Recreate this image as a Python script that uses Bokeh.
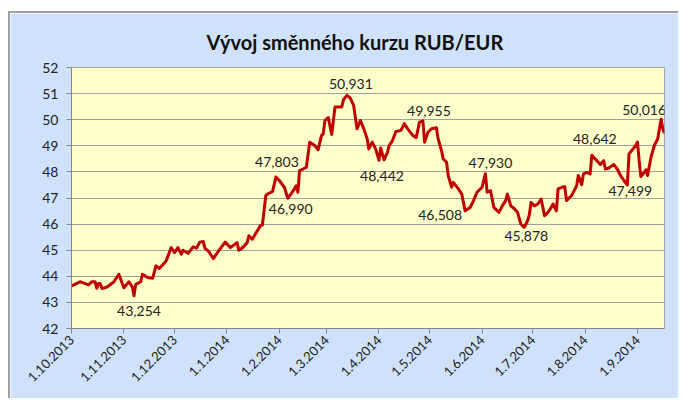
from datetime import datetime
from bokeh.plotting import figure
from bokeh.models import FixedTicker, Range1d, ColumnDataSource, Title
from bokeh.core.properties import value
from bokeh.embed import file_html
from bokeh.resources import INLINE

# ---- data ----
dates = [
    "2013-10-01", "2013-10-03", "2013-10-06", "2013-10-08", "2013-10-11", "2013-10-13", "2013-10-15",
    "2013-10-16", "2013-10-17", "2013-10-18", "2013-10-19", "2013-10-22", "2013-10-26", "2013-10-29",
    "2013-11-01", "2013-11-04", "2013-11-06", "2013-11-07", "2013-11-08", "2013-11-11", "2013-11-12",
    "2013-11-15", "2013-11-18", "2013-11-20", "2013-11-22", "2013-11-26", "2013-11-29",
    "2013-12-01", "2013-12-03", "2013-12-05", "2013-12-06", "2013-12-09", "2013-12-12", "2013-12-14",
    "2013-12-16", "2013-12-18", "2013-12-19", "2013-12-21", "2013-12-24", "2013-12-27", "2013-12-31",
    "2014-01-03", "2014-01-07", "2014-01-08", "2014-01-10", "2014-01-13", "2014-01-14", "2014-01-16",
    "2014-01-21", "2014-01-22", "2014-01-24", "2014-01-25", "2014-01-28", "2014-01-30",
    "2014-02-01", "2014-02-04", "2014-02-06", "2014-02-09", "2014-02-11", "2014-02-12", "2014-02-13",
    "2014-02-15", "2014-02-17", "2014-02-19", "2014-02-22", "2014-02-24", "2014-02-26", "2014-02-27",
    "2014-02-28",
    "2014-03-02", "2014-03-04", "2014-03-06", "2014-03-10", "2014-03-11", "2014-03-13", "2014-03-15",
    "2014-03-17", "2014-03-19", "2014-03-21", "2014-03-23", "2014-03-25", "2014-03-26", "2014-03-28",
    "2014-03-30",
    "2014-04-01", "2014-04-02", "2014-04-04", "2014-04-06", "2014-04-07", "2014-04-09", "2014-04-11",
    "2014-04-12", "2014-04-14", "2014-04-16", "2014-04-18", "2014-04-21", "2014-04-23", "2014-04-25",
    "2014-04-27", "2014-04-28", "2014-04-30",
    "2014-05-02", "2014-05-05", "2014-05-06", "2014-05-08", "2014-05-09", "2014-05-11", "2014-05-12",
    "2014-05-14", "2014-05-15", "2014-05-18", "2014-05-20", "2014-05-22", "2014-05-25", "2014-05-27",
    "2014-05-29",
    "2014-06-01", "2014-06-03", "2014-06-04", "2014-06-06", "2014-06-08", "2014-06-11", "2014-06-13",
    "2014-06-15", "2014-06-16", "2014-06-18", "2014-06-20", "2014-06-22", "2014-06-24", "2014-06-26",
    "2014-06-28", "2014-06-29", "2014-06-30",
    "2014-07-02", "2014-07-04", "2014-07-06", "2014-07-07", "2014-07-08", "2014-07-10", "2014-07-12",
    "2014-07-13", "2014-07-15", "2014-07-16", "2014-07-19", "2014-07-20", "2014-07-21", "2014-07-24",
    "2014-07-27", "2014-07-28", "2014-07-30", "2014-07-31",
    "2014-08-02", "2014-08-04", "2014-08-05", "2014-08-08", "2014-08-10", "2014-08-12", "2014-08-13",
    "2014-08-15", "2014-08-18", "2014-08-20", "2014-08-22", "2014-08-24", "2014-08-26", "2014-08-27",
    "2014-08-29", "2014-08-31",
    "2014-09-01", "2014-09-02", "2014-09-03", "2014-09-05", "2014-09-06", "2014-09-07", "2014-09-09",
    "2014-09-11", "2014-09-13", "2014-09-15", "2014-09-16", "2014-09-17",
]
rates = [
    43.63, 43.69, 43.79, 43.75, 43.67, 43.79, 43.79,
    43.54, 43.72, 43.72, 43.53, 43.59, 43.78, 44.08,
    43.56, 43.79, 43.59, 43.254, 43.69, 43.79, 44.08,
    43.95, 43.92, 44.40, 44.30, 44.59, 45.10,
    44.91, 45.10, 44.85, 45.00, 44.88, 45.13, 45.08,
    45.31, 45.33, 45.07, 44.97, 44.68, 44.97, 45.31,
    45.10, 45.29, 45.00, 45.08, 45.29, 45.55, 45.42,
    45.96, 45.96, 47.09, 47.15, 47.25, 47.803,
    47.67, 47.41, 46.990, 47.25, 47.47, 47.22, 48.05,
    48.11, 48.18, 49.14, 49.01, 48.85, 49.40, 49.46,
    49.97,
    50.08, 49.43, 50.49, 50.49, 50.77, 50.931, 50.83,
    50.55, 49.65, 49.97, 49.65, 49.27, 48.88, 49.14,
    48.88,
    48.442, 48.92, 48.46, 48.75, 49.01, 49.20, 49.55,
    49.56, 49.59, 49.85, 49.65, 49.40, 49.31, 49.91,
    49.955, 49.14, 49.52,
    49.65, 49.69, 49.27, 48.82, 48.50, 48.37, 47.86,
    47.41, 47.60, 47.35, 47.15, 46.508, 46.64, 46.90,
    47.22,
    47.41, 47.930, 47.22, 47.28, 46.64, 46.45, 46.70,
    46.90, 47.15, 46.70, 46.60, 46.45, 46.00, 45.878,
    46.13, 46.36, 46.83,
    46.70, 46.77, 46.96, 46.64, 46.32, 46.45, 46.64,
    46.77, 46.51, 47.35, 47.43, 47.43, 46.90, 47.09,
    47.47, 47.86, 47.51, 47.92,
    47.98, 47.92, 48.642, 48.43, 48.28, 48.43, 48.11,
    48.15, 48.28, 48.11, 47.86, 47.67, 47.499, 48.69,
    48.85, 49.01,
    49.14, 48.43, 47.82, 47.98, 48.08, 47.86, 48.56,
    49.01, 49.27, 50.016, 49.65, 49.48,
]

# annotated extremes
label_dates = ["2013-11-07", "2014-01-30", "2014-02-06", "2014-03-13", "2014-04-01", "2014-04-27",
               "2014-05-22", "2014-06-03", "2014-06-26", "2014-08-05", "2014-08-26", "2014-09-15"]
label_values = [43.254, 47.803, 46.990, 50.931, 48.442, 49.955,
                46.508, 47.930, 45.878, 48.642, 47.499, 50.016]
# label placement (screen px, y downward)
label_dx = [5, 1, 3, 4, 3, 6, -25, 5, 2, 3, 3, -17]
label_dy = [15, -15, 11, -11, 16, -10, 4, -11, 9, -16, 6, -9]

tick_dates = ["2013-10-01", "2013-11-01", "2013-12-01", "2014-01-01", "2014-02-01", "2014-03-01",
              "2014-04-01", "2014-05-01", "2014-06-01", "2014-07-01", "2014-08-01", "2014-09-01"]
tick_labels = ["1.10.2013", "1.11.2013", "1.12.2013", "1.1.2014", "1.2.2014", "1.3.2014",
               "1.4.2014", "1.5.2014", "1.6.2014", "1.7.2014", "1.8.2014", "1.9.2014"]
y_ticks = [42, 43, 44, 45, 46, 47, 48, 49, 50, 51, 52]

title_text = "Vývoj směnného kurzu RUB/EUR"

# ---- helpers ----
def ms(s):
    d = datetime.strptime(s, "%Y-%m-%d")
    return (d - datetime(1970, 1, 1)).total_seconds() * 1000.0

x_vals = [ms(d) for d in dates]
tick_ms = [ms(d) for d in tick_dates]

FONT = "Lato"
BLUE = "#D0E2FB"

p = figure(
    width=670, height=387,
    x_axis_type="datetime",
    x_range=Range1d(x_vals[0], x_vals[-1]),
    y_range=Range1d(42, 52),
    output_backend="svg", toolbar_location=None,
    margin=(11, 0, 3, 8),
    min_border_left=61, min_border_right=16, min_border_top=54, min_border_bottom=72,
    background_fill_color="#FFFFCC",
    border_fill_color=BLUE,
)
p.styles = {"border-left": "2px solid #A0A0A0", "border-top": "2px solid #A0A0A0"}

t = Title(text=title_text, text_font=FONT, text_font_size="20px", text_font_style="bold",
          text_color="#111111", align="left", offset=135, standoff=28)
p.add_layout(t, "above")

p.outline_line_color = "#A6A6A6"
p.xgrid.grid_line_color = None
p.ygrid.grid_line_color = "#A0A0A0"
p.ygrid.grid_line_width = 1

p.yaxis.ticker = FixedTicker(ticks=y_ticks)
p.xaxis.ticker = FixedTicker(ticks=tick_ms)
p.xaxis.major_label_overrides = {tm: lab for tm, lab in zip(tick_ms, tick_labels)}
p.xaxis.major_label_orientation = 0.785398

for ax in (p.xaxis[0], p.yaxis[0]):
    ax.axis_line_color = "#868686"
    ax.major_tick_line_color = "#868686"
    ax.major_tick_out = 5
    ax.major_tick_in = 0
    ax.minor_tick_line_color = None
    ax.major_label_text_font = FONT
    ax.major_label_text_font_size = "13px"
    ax.major_label_text_color = "#222222"
    ax.major_label_standoff = 4
p.yaxis.major_label_text_font_size = "14px"
p.yaxis.major_label_standoff = 8

src = ColumnDataSource(dict(x=x_vals, y=rates))
p.line("x", "y", source=src, line_color="#C00000", line_width=3, line_join="round")

lab_src = ColumnDataSource(dict(
    x=[ms(d) for d in label_dates],
    y=label_values,
    txt=[f"{v:.3f}".replace(".", ",") for v in label_values],
    dx=label_dx,
    dy=label_dy,
))
p.text("x", "y", text="txt", x_offset="dx", y_offset="dy", source=lab_src,
       text_font=value(FONT), text_font_size="14px", text_color="#222222",
       text_align="center", text_baseline="middle")

open("out.html", "w").write(file_html(p, INLINE))
